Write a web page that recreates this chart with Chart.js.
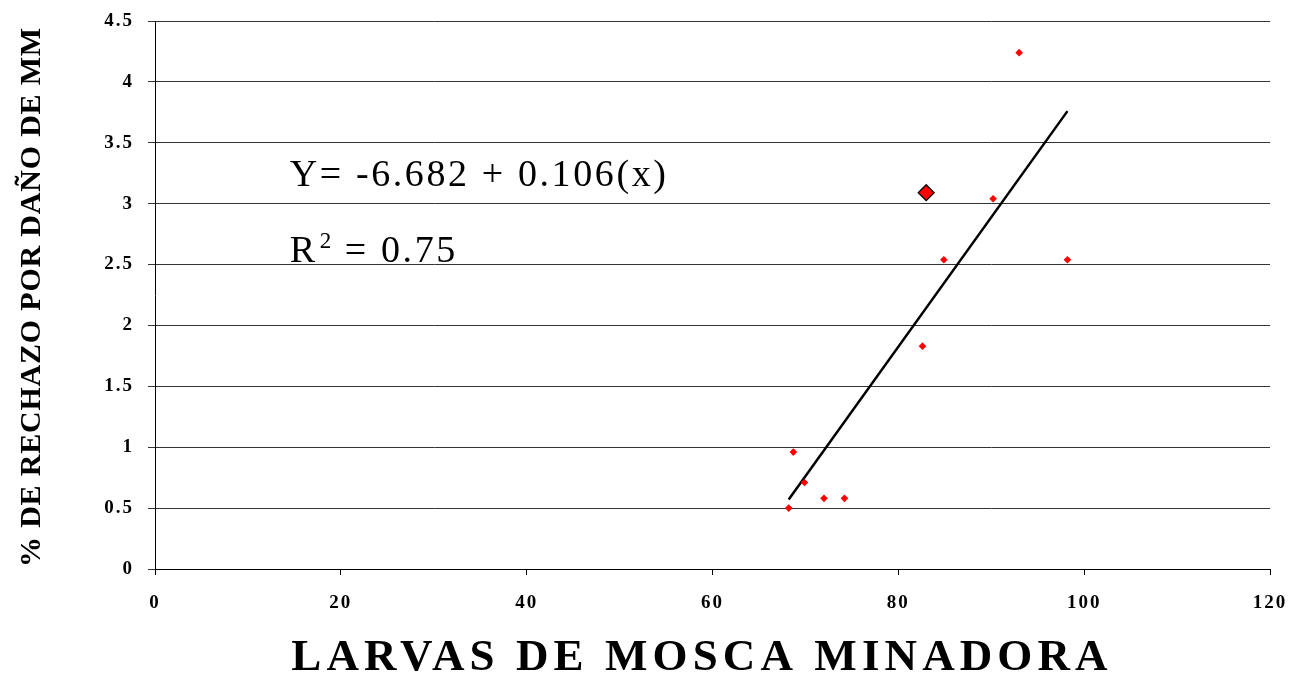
<!DOCTYPE html>
<html>
<head>
<meta charset="utf-8">
<script src="https://cdn.jsdelivr.net/npm/chart.js@4.4.1/dist/chart.umd.min.js"></script>
<style>
html,body{margin:0;padding:0;background:#fff;overflow:hidden;}
</style>
</head>
<body>
<canvas id="c" width="1292" height="675"></canvas>
<script>
const SERIF="'Times New Roman','Liberation Serif',serif";

// larvas de mosca minadora (x) y % de rechazo (y)
const larvas=[93.0,90.2,84.9,98.2,82.6,68.7,69.9,72.0,74.2,68.2];
const rechazo=[4.24,3.04,2.54,2.54,1.83,0.96,0.71,0.58,0.58,0.50];
// punto resaltado (rombo grande)
const destX=[83.0];
const destY=[3.09];
// recta de regresion, extremos
const rectaX=[68.2,98.2];
const rectaY=[0.57,3.76];

const xTicks=[0,20,40,60,80,100,120];
const yTicks=[0,0.5,1,1.5,2,2.5,3,3.5,4,4.5];

const ecuacion="Y= -6.682 + 0.106(x)";
const r2Txt=" = 0.75";
const tituloX="LARVAS DE MOSCA MINADORA";
const tituloY="% DE RECHAZO POR DAÑO DE MM";

const pts=(xs,ys)=>xs.map((v,i)=>({x:v,y:ys[i]}));

// textos: espaciado de letras + titulos y ecuacion
const textos={
  id:"textos",
  beforeDraw(chart){ chart.ctx.letterSpacing="2px"; },
  afterDraw(chart){
    const ctx=chart.ctx, sx=chart.scales.x, sy=chart.scales.y, a=chart.chartArea;
    ctx.save();
    ctx.fillStyle="#000";
    ctx.textAlign="left";
    ctx.textBaseline="alphabetic";
    ctx.letterSpacing="2.6px";
    ctx.font=`38px ${SERIF}`;
    const ex=sx.getPixelForValue(14.5);
    ctx.fillText(ecuacion,ex,sy.getPixelForValue(3.145));
    const ry=sy.getPixelForValue(2.52);
    ctx.fillText("R",ex,ry);
    const wR=ctx.measureText("R").width;
    ctx.font=`23px ${SERIF}`;
    ctx.fillText("2",ex+wR+2,ry-14);
    const w2=ctx.measureText("2").width;
    ctx.font=`38px ${SERIF}`;
    ctx.fillText(r2Txt,ex+wR+w2+1,ry);

    ctx.textAlign="center";
    ctx.textBaseline="middle";
    ctx.font=`bold 45px ${SERIF}`;
    ctx.letterSpacing="5.1px";
    ctx.fillText(tituloX,702,658);

    ctx.translate(32,(a.top+a.bottom)/2+2);
    ctx.rotate(-Math.PI/2);
    ctx.font=`bold 30px ${SERIF}`;
    ctx.letterSpacing="0.8px";
    ctx.fillText(tituloY,0,0);
    ctx.restore();
    ctx.letterSpacing="0px";
  }
};

new Chart(document.getElementById("c"),{
  type:"scatter",
  data:{
    datasets:[
      {
        label:"Rechazo",
        data:pts(larvas,rechazo),
        pointStyle:"rectRot",
        pointRadius:3.8,
        backgroundColor:"#ff0000",
        borderWidth:0
      },
      {
        label:"Destacado",
        data:pts(destX,destY),
        pointStyle:"rectRot",
        pointRadius:8,
        backgroundColor:"#ff0000",
        borderColor:"#000",
        borderWidth:1.2
      },
      {
        type:"line",
        label:"Regresion",
        data:pts(rectaX,rectaY),
        borderColor:"#000",
        borderWidth:2.5,
        pointRadius:0,
        fill:false
      }
    ]
  },
  options:{
    responsive:false,
    animation:false,
    layout:{padding:{top:21,right:22}},
    plugins:{legend:{display:false},tooltip:{enabled:false}},
    scales:{
      x:{
        type:"linear",min:0,max:120,
        afterBuildTicks:(s)=>{s.ticks=xTicks.map(v=>({value:v}));},
        afterFit:(s)=>{s.height=106;s.paddingLeft=0;s.paddingRight=0;},
        grid:{drawOnChartArea:false,drawTicks:true,tickLength:6,color:"#000"},
        border:{color:"#000",width:1},
        ticks:{color:"#000",padding:17,maxRotation:0,callback:(v)=>String(v),
          font:{family:SERIF,size:19,weight:"bold"}}
      },
      y:{
        min:0,max:4.5,
        afterBuildTicks:(s)=>{s.ticks=yTicks.map(v=>({value:v}));},
        afterFit:(s)=>{s.width=155;s.paddingTop=0;s.paddingBottom=0;},
        grid:{color:"#333",lineWidth:1,tickLength:7},
        border:{color:"#000",width:1},
        ticks:{color:"#000",padding:14,callback:(v)=>String(v),
          font:{family:SERIF,size:19,weight:"bold"}}
      }
    }
  },
  plugins:[textos]
});
</script>
</body>
</html>
